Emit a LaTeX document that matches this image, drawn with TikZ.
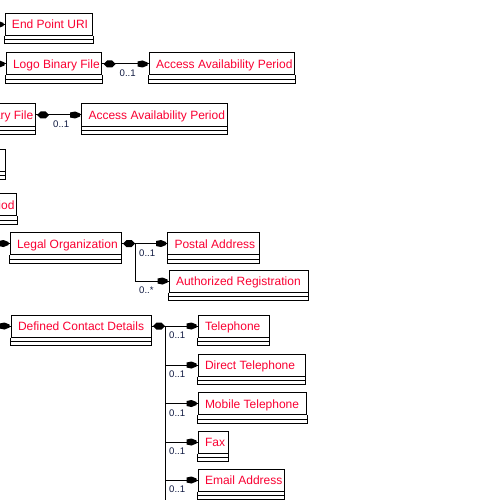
\documentclass[tikz,border=0pt]{standalone}
\usepackage{fontspec}
\setmainfont{Liberation Sans}
\usetikzlibrary{calc}

\definecolor{clsred}{RGB}{250,0,50}
\definecolor{multnavy}{RGB}{15,25,65}

\tikzset{
  cls/.style={draw=black, line width=1pt, anchor=north west, inner xsep=7pt,
    inner ysep=0pt, minimum height=22pt, text height=9.5pt, text depth=0.5pt,
    text=clsred, font=\fontsize{12}{13}\selectfont},
  boxline/.style={line width=1pt},
  link/.style={line width=1pt},
  mult/.style={anchor=west, inner sep=0pt, text=multnavy,
    font=\fontsize{9.6}{10}\selectfont},
  comp/.pic={\fill (1.5,0) -- (5,-3.5) -- (10,-3.5) -- (13.5,0) -- (10,3.5) -- (5,3.5) -- cycle;},
  navtip/.pic={\fill (-11,-2.5) -- (-6,-3.5) -- (-1,-1.5) -- (-1,1.5) -- (-6,3.5) -- (-11,2.5) -- cycle;}
}

% class box: name, left, top, width, title
\newcommand\classbox[5]{%
  \pgfmathsetmacro\cbw{#4-14}%
  \node[cls] (#1) at (#2,#3) {\makebox[\cbw pt][l]{#5}};
  \draw[boxline] (#1.south west) -- ++(0,8) -| (#1.south east);
  \draw[boxline] ($(#1.south west)+(0,4)$) -- ($(#1.south east)+(0,4)$);
}

\begin{document}
\begin{tikzpicture}[x=1pt,y=-1pt]
  \useasboundingbox (0,0) rectangle (500,500);
  \fill[white] (0,0) rectangle (500,500);
  \clip (0,0) rectangle (500,500);

  % classes
  \classbox{epu}{4.5}{13}{87.5}{End Point URI}
  \classbox{lbf}{5.5}{52.5}{95.5}{Logo Binary File}
  \classbox{aap1}{148.5}{52.5}{145.5}{Access Availability Period}
  \classbox{lbf2}{-61}{103.5}{95.5}{Logo Binary File}
  \classbox{aap2}{81}{103.5}{145.5}{Access Availability Period}
  \classbox{blank}{-95.3}{148.5}{100}{}
  \classbox{aap3}{-129.5}{193}{145.5}{Access Availability Period}
  \classbox{lo}{9.5}{232}{111}{Legal Organization}
  \classbox{pa}{167}{232}{91.5}{Postal Address}
  \classbox{ar}{168.5}{269.5}{139}{Authorized Registration}
  \classbox{dcd}{10.5}{314.5}{140}{Defined Contact Details}
  \classbox{tel}{197.5}{314.5}{71}{Telephone}
  \classbox{dtel}{197.5}{353.5}{107}{Direct Telephone}
  \classbox{mtel}{197.5}{392}{108.5}{Mobile Telephone}
  \classbox{fax}{197.5}{430.5}{30}{Fax}
  \classbox{ema}{197.5}{468.5}{86}{Email Address}

  % associations entering from the left edge
  \foreach \c in {epu,lbf,lo,dcd}{
    \coordinate (\c-in) at ($(\c.west)+(-30,0)$);
    \draw[link] (\c-in) -- (\c.west);
    \pic at (\c.west) {navtip};
  }

  % straight compositions
  \foreach \s/\t in {lbf/aap1,lbf2/aap2,lo/pa}{
    \draw[link] (\s.east) -- (\t.west);
    \pic at (\s.east) {comp};
    \pic at (\t.west) {navtip};
    \node[mult] (lab-\t) at ($(\s.east)+(17.5,9.5)$) {0..1};
  }

  % branched compositions
  \draw[link] (lo.east) -- ++(14,0) |- (ar.west);
  \pic at (ar.west) {navtip};
  \node[mult] (lab-ar) at ($(lo.east |- ar.west)+(17.5,9.5)$) {0..*};

  \coordinate (dcd-bus) at ($(dcd.east)+(14,0)$);
  \coordinate (dcd-end) at ($(dcd-bus)+(0,200)$);
  \draw[link] (dcd.east) -- (dcd-bus) -- (dcd-end);
  \pic at (dcd.east) {comp};
  \foreach \t in {tel,dtel,mtel,fax,ema}{
    \draw[link] (dcd-bus |- \t.west) -- (\t.west);
    \pic at (\t.west) {navtip};
    \node[mult] (lab-\t) at ($(dcd.east |- \t.west)+(17.5,9.5)$) {0..1};
  }
\end{tikzpicture}
\end{document}
